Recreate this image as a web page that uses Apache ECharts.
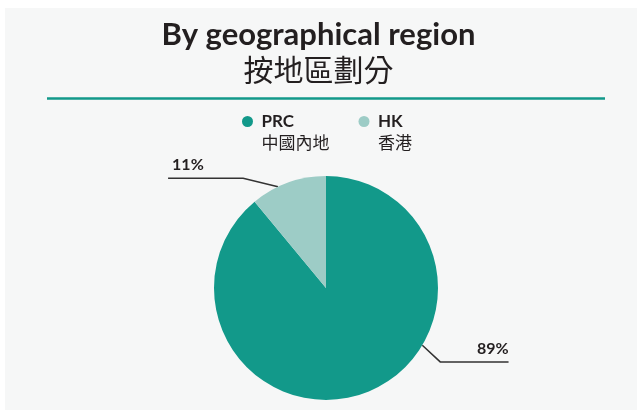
<!DOCTYPE html>
<html>
<head>
<meta charset="utf-8">
<script src="https://cdn.jsdelivr.net/npm/echarts@6/dist/echarts.min.js"></script>
<style>
  html, body { margin: 0; padding: 0; background: #fff; }
  #pie-chart { width: 637px; height: 411px; }
</style>
</head>
<body>
<div id="pie-chart"></div>
<script>
var chart = echarts.init(document.getElementById('pie-chart'));

// 数据
var regions = ['PRC', 'HK'];
var regionsZh = ['中國內地', '香港'];
var shares = [89, 11];

var sliceColors = ['#12998a', '#9dccc6'];
var ink = '#231f20';

// 饼图位置
var CX = 326, CY = 288, R = 112;
// 引导线: 起点角度(顺时针, 自12点), 横线高度/拐点/末端 (以半径为单位)
var leader = [
    { start: 120.7, y: 0.66, bend: 1.02, reach: 1.63 },
    { start: -25.4, y: -0.98, bend: -0.74, reach: -1.41 }
];

var option = {
    backgroundColor: '#ffffff',
    graphic: [{
        type: 'rect',
        z: -10,
        shape: { x: 5, y: 8, width: 632, height: 402 },
        style: { fill: '#f6f7f7' }
    }, {
        type: 'line',
        shape: { x1: 47, y1: 98.5, x2: 605, y2: 98.5 },
        style: { stroke: '#12998a', lineWidth: 2.5 }
    }],
    title: {
        text: 'By geographical region',
        subtext: '按地區劃分',
        left: 'center',
        top: 14,
        itemGap: 5,
        textStyle: {
            color: ink,
            fontFamily: 'Lato',
            fontWeight: 'bold',
            fontSize: 31
        },
        subtextStyle: {
            color: ink,
            fontFamily: 'Noto Sans CJK TC',
            fontSize: 30
        }
    },
    legend: {
        data: regions,
        left: 242,
        top: 100,
        padding: 0,
        itemGap: 29,
        itemWidth: 18,
        itemHeight: 11,
        icon: 'circle',
        selectedMode: false,
        formatter: function (name) {
            return '{e| }\n{a|' + name + '}\n{b|' + regionsZh[regions.indexOf(name)] + '}';
        },
        textStyle: {
            rich: {
                e: { fontSize: 1, lineHeight: 21 },
                a: { fontFamily: 'Lato', fontWeight: 'bold', fontSize: 17, lineHeight: 21, color: ink },
                b: { fontFamily: 'Noto Sans CJK TC', fontSize: 17, lineHeight: 21, color: ink }
            }
        }
    },
    series: [{
        name: 'By geographical region',
        type: 'pie',
        center: [CX, CY],
        radius: R,
        startAngle: 90,
        clockwise: true,
        silent: true,
        animation: false,
        data: regions.map(function (r, i) {
            return { name: r, value: shares[i], itemStyle: { color: sliceColors[i] } };
        }),
        label: {
            show: true,
            position: 'outside',
            formatter: '{c}%',
            fontFamily: 'Lato',
            fontWeight: 'bold',
            fontSize: 16,
            color: ink
        },
        labelLine: {
            show: true,
            length: 10,
            length2: 30,
            lineStyle: { color: '#333', width: 1.5 }
        },
        labelLayout: function (params) {
            var s = leader[params.dataIndex];
            var a = s.start * Math.PI / 180;
            var lineY = CY + s.y * R;
            var bendX = CX + s.bend * R;
            var endX = CX + s.reach * R;
            var right = s.reach > 0;
            return {
                x: right ? endX : endX + 4,
                y: lineY - 5,
                align: right ? 'right' : 'left',
                verticalAlign: 'bottom',
                labelLinePoints: [
                    [CX + R * Math.sin(a), CY - R * Math.cos(a)],
                    [bendX, lineY],
                    [endX, lineY]
                ]
            };
        }
    }]
};
chart.setOption(option);
</script>
</body>
</html>
